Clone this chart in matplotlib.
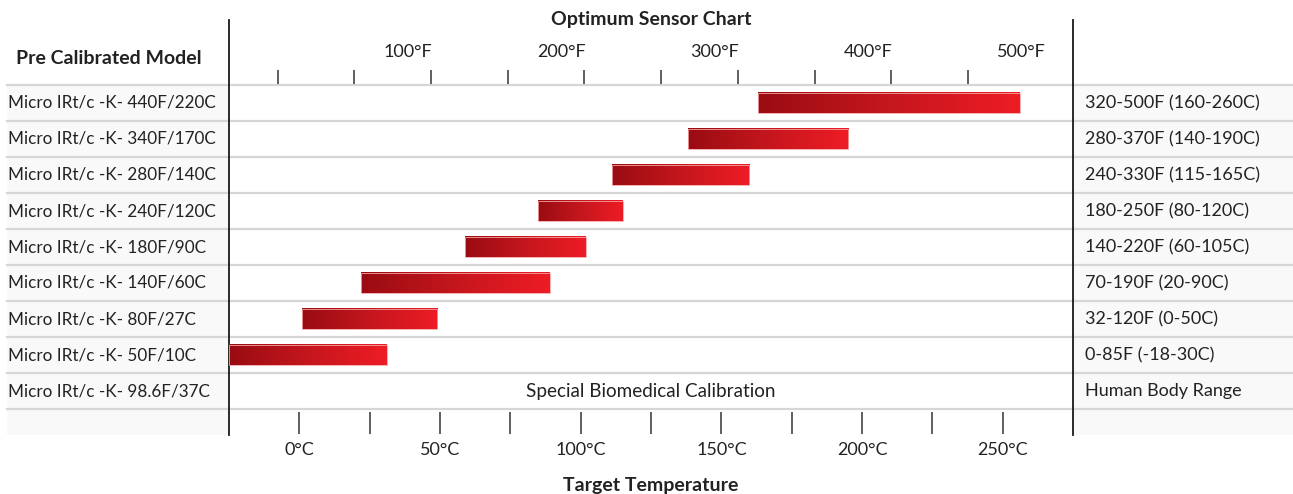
import matplotlib
import matplotlib.pyplot as plt
import numpy as np
from matplotlib.colors import LinearSegmentedColormap
from matplotlib.patches import Rectangle

matplotlib.use('Agg')

# Sensor models (top to bottom) and their ranges
models = ["Micro IRt/c -K- 440F/220C", "Micro IRt/c -K- 340F/170C",
          "Micro IRt/c -K- 280F/140C", "Micro IRt/c -K- 240F/120C",
          "Micro IRt/c -K- 180F/90C", "Micro IRt/c -K- 140F/60C",
          "Micro IRt/c -K- 80F/27C", "Micro IRt/c -K- 50F/10C",
          "Micro IRt/c -K- 98.6F/37C"]
ranges = ["320-500F (160-260C)", "280-370F (140-190C)", "240-330F (115-165C)",
          "180-250F (80-120C)", "140-220F (60-105C)", "70-190F (20-90C)",
          "32-120F (0-50C)", "0-85F (-18-30C)", "Human Body Range"]
# bar extents, in degrees C (bottom scale)
bar_lo = [163, 138, 111, 85, 59, 22, 1, -25]
bar_hi = [256, 195, 160, 115, 102, 89, 49, 31]

c_ticks = [0, 25, 50, 75, 100, 125, 150, 175, 200, 225, 250]
c_labels = [0, 50, 100, 150, 200, 250]
f_ticks = [0, 50, 100, 150, 200, 250, 300, 350, 400, 450]
f_labels = [100, 200, 300, 400, 500]

plt.rcParams['font.family'] = ['Lato', 'DejaVu Sans']
txt = '#222222'
fs = 13
fs_left = 12.3
fs_bold = 14

W, H = 1293, 494
fig = plt.figure(figsize=(W / 100, H / 100), dpi=100)
ax = fig.add_axes([229 / W, (H - 435) / H, 844 / W, 415 / H])
ax.set_xlim(-25, 275)
ax.set_ylim(9 + 26 / 36, -65 / 36)
ax.set_xticks([])
ax.set_yticks([])
for s in ['top', 'bottom']:
    ax.spines[s].set_visible(False)
for s in ['left', 'right']:
    ax.spines[s].set_color('#1a1a1a')
    ax.spines[s].set_linewidth(1.3)

# light grey side columns
x_left = (7 - 229) / 844
x_right = (1293 - 229) / 844
yt = ax.get_yaxis_transform()
ax.add_patch(Rectangle((x_left, 0), -x_left, 9 + 26 / 36, transform=yt,
                       facecolor='#f9f9f9', edgecolor='none', clip_on=False, zorder=0))
ax.add_patch(Rectangle((1, 0), x_right - 1, 9 + 26 / 36, transform=yt,
                       facecolor='#f9f9f9', edgecolor='none', clip_on=False, zorder=0))

# table row lines
for r in range(10):
    ax.axhline(r, xmin=x_left, xmax=x_right, color='#d6d6d6', lw=1.6,
               clip_on=False, zorder=1)

# gradient bars
cmap = LinearSegmentedColormap.from_list('redgrad', ['#990c12', '#c5161d', '#ee1c25'])
grad = np.linspace(0, 1, 256).reshape(1, -1)
bh = 0.29
for i, (lo, hi) in enumerate(zip(bar_lo, bar_hi)):
    ax.imshow(grad, cmap=cmap, aspect='auto', extent=(lo, hi, i + 0.5 + bh, i + 0.5 - bh),
              zorder=3, interpolation='bilinear')
    ax.add_patch(Rectangle((lo, i + 0.5 - bh), hi - lo, 2 * bh, facecolor='none',
                           edgecolor='#f3a3a3', lw=0.6, zorder=4))
ax.set_xlim(-25, 275)
ax.set_ylim(9 + 26 / 36, -65 / 36)

# bottom celsius ticks
ax.vlines(c_ticks, 9 + 2.7 / 36, 9 + 25.3 / 36, color='#444444', lw=1.2, zorder=2)
for c in c_labels:
    ax.text(c, 9 + 41 / 36, f"{c}°C", ha='center', va='center', fontsize=fs, color=txt)

# top fahrenheit scale (independent)
axf = ax.twiny()
axf.set_xlim(-31.7, 518.4)
axf.set_ylim(ax.get_ylim())
axf.axis('off')
axf.vlines(f_ticks, -15 / 36, -1 / 36, color='#444444', lw=1.2)
for f in f_labels:
    axf.text(f + 0.8, -33 / 36, f"{f}°F", ha='right', va='center', fontsize=fs, color=txt)

# row labels
for i, (m, rg) in enumerate(zip(models, ranges)):
    ax.text((8 - 229) / 844, i + 0.5, m, transform=yt, ha='left', va='center',
            fontsize=fs_left, color=txt)
    ax.text((1085 - 229) / 844, i + 0.5, rg, transform=yt, ha='left', va='center',
            fontsize=fs, color=txt)
ax.text(0.5, 8.5, "Special Biomedical Calibration", transform=yt, ha='center',
        va='center', fontsize=fs + 0.6, color=txt)

fig.text(651 / W, 1 - 19 / H, "Optimum Sensor Chart", ha='center', va='center',
         fontsize=fs_bold, fontweight='bold', color=txt)
fig.text(109 / W, 1 - 58 / H, "Pre Calibrated Model", ha='center', va='center',
         fontsize=fs_bold, fontweight='bold', color=txt)
fig.text(651 / W, 1 - 485 / H, "Target Temperature", ha='center', va='center',
         fontsize=fs_bold, fontweight='bold', color=txt)

fig.savefig('out.png', dpi=100, facecolor='white')
